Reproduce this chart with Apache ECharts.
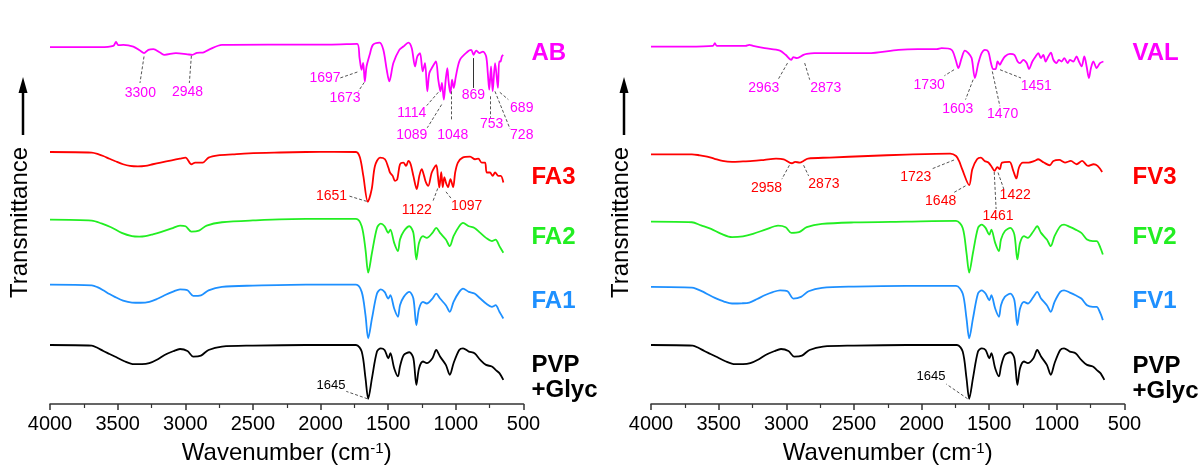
<!DOCTYPE html>
<html><head><meta charset="utf-8">
<script src="https://cdn.jsdelivr.net/npm/echarts@6/dist/echarts.min.js"></script>
<style>html,body{margin:0;padding:0;background:#fff}#c{width:1200px;height:470px}</style>
</head><body><div id="c"></div>
<script>
const FONT = "'Liberation Sans', Arial, Helvetica, sans-serif";

// x-axis ticks (wavenumber, cm-1)
const xTicks = [4000, 3500, 3000, 2500, 2000, 1500, 1000, 500];

// ---- Spectra: [wavenumber (cm-1), transmittance (a.u., stacked)] ----
const AB = [[4000,358.7],[3630,358.7],[3532,360],[3512,364],[3495,360.7],[3458,361],[3384,359.3],[3335,355.3],[3305,352.7],[3273,356],[3236,356.7],[3187,353.3],[3153,351],[3069,352.7],[2984,351.5],[2948,351],[2913,353],[2870,353.3],[2828,356],[2729,361],[2389,361.3],[1938,361.3],[1730,362],[1712,348],[1697,336],[1685,343],[1673,324.3],[1660,339.3],[1637,351],[1613,361],[1563,363.3],[1536,356],[1511,336],[1492,324.3],[1462,342.7],[1418,356],[1388,359.3],[1351,363.3],[1326,357.7],[1302,339.3],[1285,349.3],[1265,352.7],[1245,334.3],[1228,342.7],[1211,314.3],[1196,332.7],[1171,339.3],[1147,344.3],[1130,326],[1114,314.3],[1103,322.7],[1089,306],[1075,326],[1063,337.7],[1055,326],[1048,317.7],[1040,312.7],[1028,326],[1016,317.7],[1000,329.3],[970,346],[912,354.3],[887,356],[869,351],[850,355.3],[826,352.7],[800,354.3],[776,349.3],[764,332.7],[753,316],[740,339.3],[728,314.3],[710,342.7],[689,317.7],[680,344.3],[670,344.3],[660,349.3],[650,351]];
const FA3 = [[4000,253.3],[3691,252.7],[3640,251],[3606,249.3],[3560,246.5],[3521,244.3],[3460,241],[3409,239.3],[3350,238.8],[3295,239.3],[3240,241],[3182,242.7],[3100,245],[3039,246.7],[2998,247.7],[2955,241],[2927,242.7],[2871,242.7],[2828,247.7],[2758,250],[2650,251],[2530,252],[2300,252.8],[2108,253.3],[1900,253.5],[1738,253.3],[1709,247.7],[1684,229.3],[1651,203.3],[1622,216],[1598,239.3],[1561,247.7],[1524,246],[1499,237.7],[1487,232.7],[1467,229.3],[1450,224.3],[1433,226],[1413,241],[1388,242.7],[1368,239.3],[1351,244.3],[1334,241],[1314,229.3],[1289,216],[1270,229.3],[1252,236],[1235,229.3],[1221,222.7],[1204,219.3],[1178,232.7],[1145,240],[1133,229.3],[1122,217.7],[1108,233],[1097,218],[1085,228],[1072,222],[1058,218],[1040,226],[1020,218],[1005,232.7],[985,242.7],[950,247.7],[895,248.7],[858,246],[834,246.7],[809,242.7],[784,242.7],[772,232.7],[748,232.7],[728,229.3],[710,232.7],[686,229.3],[668,229.3],[649,222.7]];
const FA2 = [[4000,185.3],[3691,184.3],[3620,181.5],[3549,177.7],[3470,172],[3394,168.7],[3340,168.2],[3295,168.7],[3240,170.5],[3182,172.7],[3100,176.5],[3039,179.3],[2998,178.7],[2955,173.3],[2899,174.3],[2842,179.3],[2729,182.7],[2500,184.5],[2108,186],[1738,186],[1696,178.7],[1668,155.3],[1648,132],[1620,152],[1583,177],[1555,181.3],[1527,178.7],[1499,172],[1484,175.3],[1456,162],[1428,153.7],[1413,165.3],[1385,173.7],[1343,178.7],[1314,172],[1292,145.3],[1272,162],[1243,168.7],[1215,167],[1173,172],[1145,177],[1117,172],[1074,165.3],[1045,158.7],[1017,168.7],[975,178.7],[947,182],[904,178.7],[862,177],[819,172],[777,167],[734,163.7],[706,165.3],[678,158.7],[649,152]];
const FA1 = [[4000,120],[3691,119.3],[3650,117.5],[3606,114.3],[3560,110.5],[3521,107.7],[3460,104],[3394,102],[3330,101.8],[3266,102.7],[3210,105.5],[3153,109.3],[3090,113],[3039,115.3],[2984,114.3],[2941,108.7],[2884,109.3],[2828,114.3],[2729,117.7],[2500,119],[2108,120],[1738,120],[1696,112.7],[1668,89.3],[1648,66],[1620,86],[1583,111],[1555,115.3],[1527,112.7],[1499,106],[1484,109.3],[1456,96],[1428,87.7],[1413,99.3],[1385,107.7],[1343,112.7],[1314,106],[1292,79.3],[1272,96],[1243,102.7],[1215,101],[1173,106],[1145,111],[1117,106],[1074,99.3],[1045,92.7],[1017,102.7],[975,112.7],[947,116],[904,112.7],[862,111],[819,106],[777,101],[734,97.7],[706,99.3],[678,92.7],[649,86]];
const PVP_GLYC = [[4000,59.3],[3691,58.7],[3650,56.5],[3606,53.3],[3560,50.3],[3521,47.7],[3450,43],[3379,40],[3320,40],[3266,41],[3210,44.5],[3153,49.3],[3090,53],[3039,55.3],[2984,53.3],[2941,47.7],[2884,48.7],[2828,54.3],[2729,57.7],[2500,58.7],[2108,59.3],[1738,59.3],[1696,52.7],[1668,26],[1648,5.3],[1620,26],[1583,52.7],[1555,56],[1527,54.3],[1499,46],[1484,51],[1456,36],[1428,27.7],[1413,37.7],[1385,49.3],[1343,52],[1314,46],[1292,19.3],[1272,36],[1243,42.7],[1215,41],[1173,46],[1145,54.3],[1117,47.7],[1074,39.3],[1045,29.3],[1017,41],[975,54.3],[947,56],[904,52.7],[862,51],[819,44.3],[777,39.3],[734,37.7],[706,34.3],[678,31],[649,24.3]];
const VAL = [[4000,359.3],[3726,359.3],[3542,360],[3528,362.7],[3514,360],[3302,360],[3273,361],[3246,360],[3160,357.7],[3047,355.3],[3005,351],[2963,346],[2948,348.7],[2921,347.7],[2873,351],[2849,352],[2793,352.7],[2680,352.7],[2397,352.7],[2171,356],[2029,356.7],[1887,356.7],[1852,357.7],[1778,356],[1748,346],[1728,337.7],[1704,347.7],[1680,355.3],[1654,352.7],[1630,347.7],[1606,327.7],[1580,342.7],[1556,352.7],[1532,356],[1507,354.3],[1487,342.7],[1470,336.7],[1453,336.7],[1438,344.3],[1421,341],[1408,344.3],[1384,349.3],[1347,352],[1314,351],[1290,344.3],[1273,342.7],[1248,346],[1223,342.7],[1206,336.7],[1181,344.3],[1157,349.3],[1137,352.7],[1118,347.7],[1100,351],[1083,344.3],[1063,349.3],[1044,353.3],[1026,346],[1002,342.7],[985,346],[965,344.3],[945,347.7],[920,342.7],[903,346],[878,344.3],[854,349.3],[837,344.3],[817,339.3],[797,349.3],[780,339.3],[763,327.7],[748,337.7],[730,344.3],[706,337.7],[681,342.7],[656,344.3]];
const FV3 = [[4000,251],[3698,251],[3640,250],[3585,248.7],[3530,246.5],[3472,244.3],[3401,243.3],[3320,243.8],[3246,244.3],[3160,245.5],[3076,246.7],[3019,246],[2958,242],[2935,243.3],[2900,242.7],[2873,244.3],[2840,246.7],[2680,247.7],[2397,249.3],[2115,250.7],[1788,251.7],[1745,249.3],[1723,244.3],[1700,236],[1648,220],[1625,236],[1590,246],[1562,247.7],[1534,244.3],[1506,242.7],[1480,238],[1461,234.3],[1440,238],[1422,236],[1405,242.7],[1350,243.3],[1322,234.3],[1299,226.7],[1280,237.7],[1251,242.7],[1209,242.7],[1166,244.3],[1138,246],[1096,242.7],[1053,240],[1025,244.3],[982,245.3],[940,242.7],[897,244.3],[854,241],[813,244.3],[770,239.3],[728,241],[699,239.3],[665,233.3]];
const FV2 = [[4000,183.3],[3698,182.7],[3630,179.5],[3556,176],[3480,171],[3401,167.7],[3320,168.5],[3246,171],[3150,175.5],[3061,179.3],[3005,177.7],[2962,172],[2906,172.7],[2849,177.7],[2736,181],[2500,182.5],[2115,183.3],[1745,184],[1696,177],[1668,152],[1648,132],[1620,152],[1583,177],[1555,180.3],[1527,177],[1499,170.3],[1484,175.3],[1456,162],[1428,153.7],[1413,165.3],[1385,173.7],[1343,177],[1314,170.3],[1292,145.3],[1272,162],[1243,168.7],[1215,167],[1173,173.7],[1145,178.7],[1117,172],[1074,165.3],[1045,158.7],[1017,168.7],[975,178.7],[947,180.3],[904,178],[862,175.3],[819,172],[777,165.3],[734,163.7],[706,163.7],[678,157],[660,150.3]];
const FV1 = [[4000,117.7],[3698,117],[3660,115.5],[3613,112.7],[3570,109.5],[3528,106.7],[3460,103],[3401,101],[3330,101.2],[3273,102],[3215,105.5],[3160,109.3],[3100,112.5],[3046,114.3],[2991,113.3],[2948,106],[2891,107.7],[2835,113.3],[2736,116.7],[2500,118],[2115,118.7],[1745,118.7],[1696,111],[1668,86],[1648,66],[1620,86],[1583,111],[1555,114.3],[1527,111],[1499,104.3],[1484,109.3],[1456,96],[1428,87.7],[1413,99.3],[1385,107.7],[1343,111],[1314,104.3],[1292,79.3],[1272,96],[1243,102.7],[1215,101],[1173,107.7],[1145,112.7],[1117,106],[1074,99.3],[1045,92.7],[1017,102.7],[975,112.7],[947,114.3],[904,112],[862,109.3],[819,106],[777,99.3],[734,97.7],[706,97.7],[678,91],[660,84.3]];

// ---- Peak annotations (layout): [text, leader start, leader end, text centre, style] ----
const notesAB = [
  ['3300',[3305,349.3],[3335,322.7],[3332,312.7]],
  ['2948',[2955,350],[2970,322.7],[2984,313.3]],
  ['1697',[1728,333.7],[1856,327.7],[1967,327.7]],
  ['1673',[1677,323.3],[1721,314.3],[1819,307.7]],
  ['1114',[1130,313.3],[1215,300],[1326,292.7]],
  ['1089',[1105,301],[1211,277.7],[1326,270]],
  ['1048',[1031,314.3],[1031,284.3],[1023,270]],
  ['869',[871,347.7],[871,317.7],[871,310],'solid'],
  ['753',[748,309.3],[748,287.7],[735,281]],
  ['728',[711,314.3],[600,276.7],[513,270]],
  ['689',[675,313.3],[612,306],[513,297.7]]
];
const notesFA3 = [
  ['1651',[1659,203.7],[1795,209.3],[1919,209.3]],
  ['1122',[1134,216.7],[1171,203.3],[1289,195.3]],
  ['1097',[1073,213.3],[1031,206],[920,199.3]]
];
const notesPVPleft = [['1645',[1654,5.3],[1810,12.7],[1923,18.7]]];
const notesPVPright = [['1645',[1660,5.3],[1817,20],[1930,27.7]]];
const notesVAL = [
  ['2963',[2991,342.7],[3061,326],[3166,317.7]],
  ['2873',[2864,342.7],[2827,326],[2708,317.7]],
  ['1730',[1760,336],[1831,330],[1944,321]],
  ['1603',[1619,326],[1675,306],[1732,296.7]],
  ['1470',[1477,334.3],[1421,299.3],[1401,291]],
  ['1451',[1420,336],[1265,327.7],[1152,320]]
];
const notesFV3 = [
  ['2958',[2977,240],[3033,226],[3146,216.7]],
  ['2873',[2872,240],[2835,229.3],[2722,221]],
  ['1723',[1760,245.3],[1930,236],[2043,227.7]],
  ['1648',[1675,219.3],[1760,212.7],[1859,204.3]],
  ['1461',[1463,233.3],[1449,196],[1435,188.7]],
  ['1422',[1435,232.7],[1392,216],[1308,210]]
];

const C = {mag:'#ff00ff', red:'#ff0000', green:'#22ee22', blue:'#1e90ff', black:'#000000'};

const panels = [
  [
    {name:'AB', data:AB, color:C.mag, labelY:352, notes:notesAB, noteSize:14},
    {name:'FA3', data:FA3, color:C.red, labelY:228, notes:notesFA3, noteSize:14},
    {name:'FA2', data:FA2, color:C.green, labelY:167, notes:[]},
    {name:'FA1', data:FA1, color:C.blue, labelY:103, notes:[]},
    {name:'PVP\n+Glyc', data:PVP_GLYC, color:C.black, labelY:26.5, notes:notesPVPleft, noteSize:13}
  ],
  [
    {name:'VAL', data:VAL, color:C.mag, labelY:352, notes:notesVAL, noteSize:14},
    {name:'FV3', data:FV3, color:C.red, labelY:228, notes:notesFV3, noteSize:14},
    {name:'FV2', data:FV2, color:C.green, labelY:167.5, notes:[]},
    {name:'FV1', data:FV1, color:C.blue, labelY:103, notes:[]},
    {name:'PVP\n+Glyc', data:PVP_GLYC, color:C.black, labelY:25.5, notes:notesPVPright, noteSize:13}
  ]
];

const gridLefts = [50, 651];
const grids = gridLefts.map(l => ({left:l, top:20, width:473.5, height:386}));
const xAxes = gridLefts.map((l, i) => ({
  type:'value', gridIndex:i, inverse:true,
  min: Math.min(...xTicks), max: Math.max(...xTicks), interval: xTicks[0]-xTicks[1],
  axisLine:{show:true, onZero:false, lineStyle:{color:'#333', width:1.5}},
  axisTick:{show:true, inside:false, length:6, lineStyle:{color:'#333', width:1.5}},
  minorTick:{show:true, splitNumber:2, length:4, lineStyle:{color:'#333', width:1.2}},
  splitLine:{show:false}, minorSplitLine:{show:false},
  axisLabel:{fontSize:20, color:'#000', margin:10, fontFamily:FONT, formatter: v => String(v)},
  name:'Wavenumber (cm{sup|-1})', nameLocation:'middle', nameGap:37,
  nameTextStyle:{fontSize:24, color:'#000', fontFamily:FONT,
    rich:{sup:{fontSize:15, color:'#000', fontFamily:FONT, verticalAlign:'top'}}}
}));
const yAxes = gridLefts.map((l, i) => ({type:'value', gridIndex:i, min:0, max:386, show:false}));

const series = [];
panels.forEach((items, g) => {
  items.forEach(it => {
    series.push({
      type:'line', name:it.name, xAxisIndex:g, yAxisIndex:g, data:it.data,
      showSymbol:false, symbol:'none', clip:false, animation:false, silent:true,
      smooth:0.3,
      lineStyle:{color:it.color, width:1.8}, itemStyle:{color:it.color},
      markLine:{
        silent:true, animation:false, symbol:['none','none'], label:{show:false},
        lineStyle:{color:'#555', width:1, type:[3,2]},
        data: it.notes.map(n => {
          const ls = n[4] === 'solid' ? {type:'solid', color:'#333', width:1} : undefined;
          return [{coord:n[1], lineStyle:ls}, {coord:n[2], lineStyle:ls}];
        })
      },
      markPoint:{
        silent:true, animation:false, symbol:'circle', symbolSize:0,
        data: it.notes.map(n => ({
          coord:n[3],
          label:{show:true, position:'inside', formatter:n[0], color:it.color, fontSize:it.noteSize, fontFamily:FONT}
        })).concat([{
          coord:[Math.min(...xTicks), it.labelY],
          label:{show:true, position:'right', distance:8, formatter:it.name, color:it.color,
                 fontSize:24, fontWeight:'bold', fontFamily:FONT, lineHeight:25, align:'left'}
        }])
      }
    });
  });
});

// Y-axis titles with arrows (decoration)
const graphic = [];
[0, 601].forEach(dx => {
  graphic.push({type:'text', x:20+dx, y:222.5, rotation:Math.PI/2,
    style:{text:'Transmittance', fill:'#000', font:'24px ' + FONT, align:'center', verticalAlign:'middle'}});
  graphic.push({type:'line', shape:{x1:23+dx, y1:135, x2:23+dx, y2:90}, style:{stroke:'#000', lineWidth:2.5}});
  graphic.push({type:'polygon', shape:{points:[[23+dx,77],[18.5+dx,93],[27.5+dx,93]]}, style:{fill:'#000'}});
});

const chart = echarts.init(document.getElementById('c'), null, {renderer:'canvas'});
chart.setOption({
  backgroundColor:'#ffffff', animation:false,
  grid:grids, xAxis:xAxes, yAxis:yAxes, series:series, graphic:graphic
});
</script></body></html>
